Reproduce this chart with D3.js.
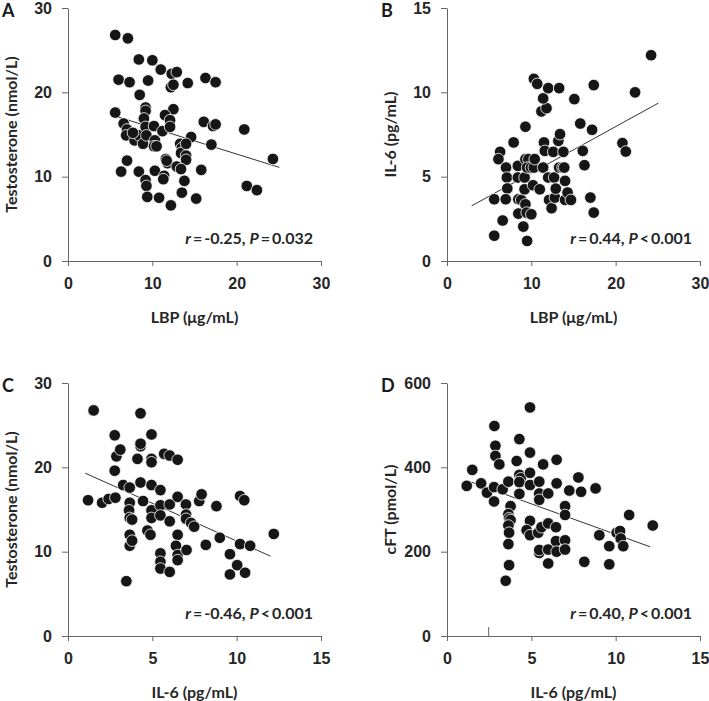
<!DOCTYPE html>
<html>
<head>
<meta charset="utf-8">
<script src="https://cdn.jsdelivr.net/npm/d3@7"></script>
<style>
  body { margin: 0; background: #fff; }
  svg { display: block; font-family: Lato, "Open Sans", sans-serif; }
  .tick text { font-size: 16px; font-weight: 700; fill: #262626; }
  .domain, .tick line { stroke: #666; }
  .title { font-size: 16px; font-weight: 700; fill: #262626; }
  .letter { font-size: 18px; font-weight: 700; fill: #1a1a1a; }
  .stat { font-size: 16px; font-weight: 700; fill: #262626; }
</style>
</head>
<body>
<svg id="chart" width="709" height="701"></svg>
<script>
// A: LBP vs testosterone
var lbpA = [5.6, 7.1, 8.4, 10.0, 11.0, 12.3, 12.9, 6.0, 7.3, 9.5, 12.2, 12.5, 14.2, 16.3, 17.5, 8.5, 5.6, 9.2, 9.2, 12.5,
  6.6, 7.0, 6.9, 7.9, 8.4, 9.0, 9.2, 8.9, 9.3, 10.2, 10.3, 10.2, 11.2, 11.5, 12.1, 12.1, 14.6, 13.3, 13.5, 13.4,
  14.0, 14.0, 14.0, 11.6, 11.8, 12.9, 13.4, 7.0, 6.3, 8.4, 10.3, 11.4, 11.3, 9.2, 9.3, 9.4, 10.8, 12.2, 13.5, 13.8,
  15.2, 15.8, 16.1, 17.2, 17.5, 17.0, 20.9, 21.2, 22.4, 24.3, 7.7, 10.5, 11.7];
var testoA = [26.8, 26.4, 23.9, 23.8, 22.7, 22.2, 22.4, 21.5, 21.2, 21.4, 20.6, 20.9, 21.1, 21.7, 21.2, 19.7, 17.6, 18.2, 17.8, 18.0,
  16.3, 15.6, 14.9, 14.3, 14.9, 16.9, 15.9, 13.9, 14.9, 16.0, 14.3, 13.6, 15.4, 17.3, 16.7, 15.9, 14.7, 13.9, 13.4, 12.8,
  13.9, 12.5, 12.0, 12.1, 11.6, 11.2, 10.9, 11.9, 10.6, 10.6, 10.7, 10.1, 9.7, 9.6, 8.9, 7.6, 7.5, 6.6, 8.1, 9.5,
  7.4, 10.8, 16.5, 16.0, 16.2, 13.8, 15.6, 8.9, 8.4, 12.1, 15.2, 13.6, 11.9];

// B: LBP vs IL-6
var lbpB = [5.6, 5.6, 6.6, 6.3, 6.1, 7.0, 7.1, 7.15, 6.96, 7.9, 8.4, 8.4, 8.46, 8.8, 8.46, 9.2, 9.2, 9.3, 9.05, 9.3,
  9.45, 9.5, 9.3, 9.65, 9.5, 9.96, 10.0, 10.3, 10.4, 10.2, 10.3, 10.7, 11.0, 11.4, 11.5, 11.6, 11.2, 11.8, 11.4, 12.0,
  13.3, 12.0, 12.1, 12.4, 12.7, 12.6, 12.8, 12.9, 13.3, 13.7, 13.2, 13.4, 13.8, 13.9, 14.0, 14.0, 14.3, 14.7, 15.1, 15.8,
  16.1, 16.3, 17.2, 17.0, 17.4, 17.4, 20.8, 21.2, 22.3, 24.2];
var il6B = [1.5, 3.66, 2.4, 6.47, 6.04, 5.54, 4.95, 4.3, 3.66, 7.03, 5.64, 4.95, 3.66, 3.62, 2.81, 4.25, 4.95, 7.96, 2.04, 3.36,
  2.87, 1.19, 6.04, 6.04, 5.54, 5.54, 2.77, 5.54, 6.04, 4.49, 10.8, 10.5, 4.25, 5.54, 7.03, 6.53, 8.87, 9.06, 9.64, 10.25,
  10.25, 4.95, 3.62, 3.13, 4.95, 6.47, 3.76, 4.29, 5.54, 5.54, 7.12, 7.52, 6.47, 5.54, 4.75, 3.62, 4.06, 3.62, 9.6, 8.15,
  6.53, 5.68, 7.78, 3.76, 10.43, 2.87, 6.99, 6.49, 10.0, 12.2];

// C: IL-6 vs testosterone
var il6C = [1.19, 1.52, 2.02, 2.41, 2.81, 2.77, 2.87, 2.77, 3.1, 3.27, 3.66, 3.66, 3.62, 3.66, 3.8, 3.66, 3.66, 3.8, 3.46, 4.12,
  4.3, 4.3, 4.3, 4.3, 4.45, 4.71, 4.89, 4.95, 4.95, 4.95, 4.95, 4.95, 4.95, 5.48, 5.48, 5.48, 5.48, 5.48, 5.48, 5.7,
  6.03, 6.03, 6.03, 6.03, 6.5, 6.5, 6.5, 6.4, 6.5, 6.5, 6.99, 7.0, 7.0, 7.3, 7.48, 7.03, 7.78, 7.92, 8.17, 8.8,
  9.0, 9.6, 9.6, 10.03, 10.2, 10.45, 10.2, 10.5, 10.8, 12.2];
var testoC = [16.1, 26.75, 15.8, 16.25, 16.4, 23.8, 21.3, 19.6, 22.1, 17.9, 17.6, 15.8, 14.9, 14.0, 13.8, 12.0, 10.7, 11.3, 6.5, 21.0,
  26.4, 22.5, 22.8, 18.2, 16.0, 12.5, 12.0, 23.9, 21.0, 20.6, 17.9, 14.9, 14.0, 17.3, 15.5, 14.3, 9.8, 8.8, 8.0, 21.6,
  21.4, 15.6, 13.6, 7.6, 20.9, 16.5, 12.0, 10.7, 9.6, 9.0, 15.6, 14.4, 13.9, 13.4, 12.96, 10.2, 16.0, 16.8, 10.8, 15.4,
  11.65, 9.7, 7.3, 8.4, 16.6, 16.1, 10.9, 7.5, 10.7, 12.1];

// D: IL-6 vs calculated free testosterone
var il6D = [1.17, 1.5, 2.02, 2.37, 2.81, 2.87, 2.87, 2.79, 2.79, 3.1, 3.3, 3.48, 3.64, 3.77, 3.64, 3.68, 3.77, 3.64, 3.68, 3.64,
  3.68, 4.13, 4.29, 4.29, 4.37, 4.29, 4.29, 4.92, 4.92, 4.92, 4.92, 4.92, 4.72, 4.92, 5.47, 5.47, 5.47, 5.41, 5.47, 5.47,
  5.6, 5.7, 6.0, 6.0, 6.0, 6.0, 6.5, 6.5, 6.46, 6.46, 6.5, 7.0, 7.0, 7.0, 7.0, 7.25, 7.79, 7.95, 8.14, 8.81,
  9.03, 9.62, 9.62, 10.06, 10.26, 10.3, 10.45, 10.8, 12.2];
var cftD = [356, 394, 362, 340, 498, 451, 427, 353, 319, 407, 348, 131, 366, 308, 289, 279, 275, 262, 245, 218,
  168, 415, 467, 382, 374, 365, 337, 542, 435, 387, 358, 273, 251, 239, 366, 338, 323, 245, 197, 204,
  258, 407, 338, 267, 205, 172, 418, 362, 258, 225, 200, 308, 287, 227, 205, 345, 376, 342, 176, 350,
  239, 213, 170, 245, 249, 231, 213, 287, 262];

// fitted lines, endpoints as drawn
var fitA = [[5.55, 17.2], [25.05, 11.1]];
var fitB = [[2.92, 3.27], [25.06, 9.36]];
var fitC = [[1.03, 19.3], [12.0, 9.47]];
var fitD = [[1.46, 364.6], [12.04, 211.6]];

var panels = [
  { letter: 'A', xs: lbpA, ys: testoA, fit: fitA, xMax: 30, yMax: 30, xTicks: [0, 10, 20, 30], yTicks: [0, 10, 20, 30],
    xTitle: 'LBP (\u03bcg/mL)', yTitle: 'Testosterone (nmol/L)', r: '-0.25', op: '=', p: '0.032', left: 68, top: 8 },
  { letter: 'B', xs: lbpB, ys: il6B, fit: fitB, xMax: 30, yMax: 15, xTicks: [0, 10, 20, 30], yTicks: [0, 5, 10, 15],
    xTitle: 'LBP (\u03bcg/mL)', yTitle: 'IL-6 (pg/mL)', r: '0.44', op: '<', p: '0.001', left: 447, top: 8 },
  { letter: 'C', xs: il6C, ys: testoC, fit: fitC, xMax: 15, yMax: 30, xTicks: [0, 5, 10, 15], yTicks: [0, 10, 20, 30],
    xTitle: 'IL-6 (pg/mL)', yTitle: 'Testosterone (nmol/L)', r: '-0.46', op: '<', p: '0.001', left: 68, top: 383 },
  { letter: 'D', xs: il6D, ys: cftD, fit: fitD, xMax: 15, yMax: 600, xTicks: [0, 5, 10, 15], yTicks: [0, 200, 400, 600],
    xTitle: 'IL-6 (pg/mL)', yTitle: 'cFT (pmol/L)', r: '0.40', op: '<', p: '0.001', left: 447, top: 383, stray: 2.47 }
];

var width = 253;
var height = 253;
var svg = d3.select('#chart');

panels.forEach(function(p) {
  var g = svg.append('g')
    .attr('transform', 'translate(' + p.left + ',' + p.top + ')');

  var x = d3.scaleLinear().domain([0, p.xMax]).range([0, width]);
  var y = d3.scaleLinear().domain([0, p.yMax]).range([height, 0]);

  g.append('g')
    .attr('transform', 'translate(0,' + height + ')')
    .call(d3.axisBottom(x).tickValues(p.xTicks).tickSize(5).tickPadding(10).tickSizeOuter(0))
    .selectAll('text').attr('dy', '0.8em');

  g.append('g')
    .call(d3.axisLeft(y).tickValues(p.yTicks).tickSize(6).tickPadding(10).tickSizeOuter(0));

  // odd little tick in panel D
  if (p.stray) {
    g.append('line')
      .attr('x1', x(p.stray)).attr('x2', x(p.stray))
      .attr('y1', height).attr('y2', height - 9)
      .attr('stroke', '#666');
  }

  var pts = p.xs.map(function(v, i) { return [v, p.ys[i]]; });

  g.append('path')
    .datum(p.fit)
    .attr('d', d3.line().x(function(d) { return x(d[0]); }).y(function(d) { return y(d[1]); }))
    .attr('stroke', '#333')
    .attr('stroke-width', 1)
    .attr('fill', 'none');

  g.selectAll('circle')
    .data(pts)
    .enter().append('circle')
    .attr('cx', function(d) { return x(d[0]); })
    .attr('cy', function(d) { return y(d[1]); })
    .attr('r', 5.8)
    .attr('fill', '#161616')
    .attr('stroke', '#fff')
    .attr('stroke-width', 0.8);

  // panel letter
  g.append('text')
    .attr('class', 'letter')
    .attr('x', -66)
    .attr('y', 9)
    .text(p.letter);

  // axis titles
  g.append('text')
    .attr('class', 'title')
    .attr('text-anchor', 'middle')
    .attr('x', width / 2)
    .attr('y', height + 62)
    .text(p.xTitle);

  g.append('text')
    .attr('class', 'title')
    .attr('text-anchor', 'middle')
    .attr('transform', 'translate(-51,' + (height / 2) + ') rotate(-90)')
    .text(p.yTitle);

  // correlation stats
  var t = g.append('text')
    .attr('class', 'stat')
    .attr('text-anchor', 'end')
    .attr('x', width - 8)
    .attr('y', height - 17);
  t.append('tspan').attr('font-style', 'italic').text('r');
  t.append('tspan').text('\u2009=\u2009' + p.r + ', ');
  t.append('tspan').attr('font-style', 'italic').text('P');
  t.append('tspan').text('\u2009' + p.op + '\u2009' + p.p);
});
</script>
</body>
</html>
